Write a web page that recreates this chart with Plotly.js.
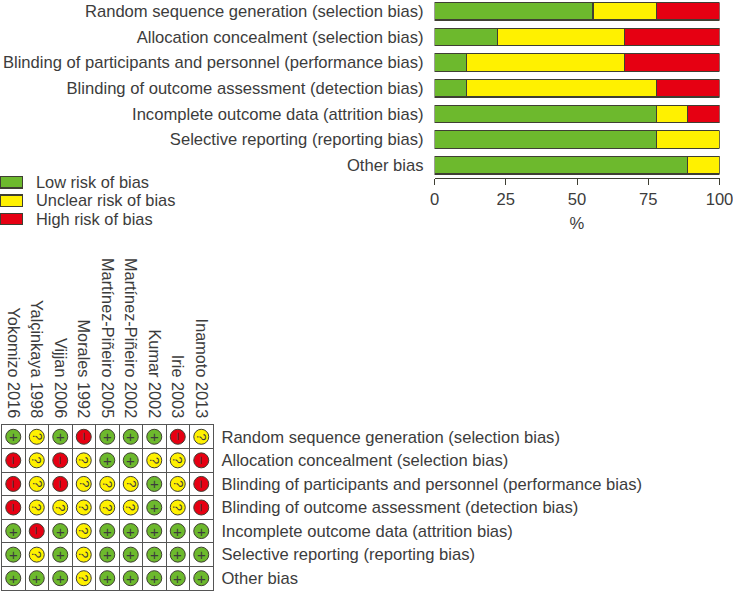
<!DOCTYPE html>
<html>
<head>
<meta charset="utf-8">
<script src="https://cdn.plot.ly/plotly-3.0.0.min.js"></script>
<style>html,body{margin:0;padding:0;background:#fff}#c{width:733px;height:591px}</style>
</head>
<body>
<div id="c"></div>
<script>
const domains = [
  "Random sequence generation (selection bias)",
  "Allocation concealment (selection bias)",
  "Blinding of participants and personnel (performance bias)",
  "Blinding of outcome assessment (detection bias)",
  "Incomplete outcome data (attrition bias)",
  "Selective reporting (reporting bias)",
  "Other bias"
];
const lowPct = [55.6, 22.2, 11.1, 11.1, 77.8, 77.8, 88.9];
const unclearPct = [22.2, 44.4, 55.6, 66.7, 11.1, 22.2, 11.1];
const highPct = [22.2, 33.4, 33.3, 22.2, 11.1, 0, 0];
const studies = ["Yokomizo 2016","Yalçinkaya 1998","Vijjan 2006","Morales 1992","Martínez-Piñeiro 2005","Martínez-Piñeiro 2002","Kumar 2002","Irie 2003","Inamoto 2013"];
const ratings = [
  ["+","?","+","-","+","+","+","-","?"],
  ["-","?","-","?","+","+","?","?","-"],
  ["-","?","-","?","?","?","+","?","-"],
  ["-","?","?","?","?","?","+","?","-"],
  ["+","-","+","?","+","+","+","+","+"],
  ["+","?","+","?","+","+","+","+","+"],
  ["+","+","+","?","+","+","+","+","+"]
];
const legendLabels = ["Low risk of bias","Unclear risk of bias","High risk of bias"];
const legendLengths = [1,1,1];
const GREEN="#6DB92D", YELLOW="#FFF100", RED="#E60012", INK="#3c3c3c", EDGE="#3f3f33";
const W=733,H=591;
const FONT="Liberation Sans, Arial, sans-serif";
const FS=16.6;
const colorOf={"+":GREEN,"?":YELLOW,"-":RED};

function barTrace(name,x,color){
  return {type:"bar",orientation:"h",name:name,y:domains,x:x,xaxis:"x",yaxis:"y",showlegend:false,
    marker:{color:color,line:{color:EDGE,width:1.2}},hoverinfo:"x+y+name"};
}
const dotX=[],dotY=[],dotC=[],anns=[];
ratings.forEach((row,r)=>row.forEach((v,c)=>{
  dotX.push(studies[c]);dotY.push(domains[r]);dotC.push(colorOf[v]);
  anns.push({xref:"x2",yref:"y2",x:c,y:r,text:v==="-"?"−":v,showarrow:false,
    textangle:v==="+"?0:90,font:{family:FONT,size:v==="?"?13:15,color:INK}});
}));
const data=[
  barTrace("Low risk of bias",lowPct,GREEN),
  barTrace("Unclear risk of bias",unclearPct,YELLOW),
  barTrace("High risk of bias",highPct,RED),
  {type:"scatter",mode:"markers",x:dotX,y:dotY,xaxis:"x2",yaxis:"y2",showlegend:false,
   marker:{size:15,color:dotC,line:{color:EDGE,width:1}},hoverinfo:"x+y"},
  {type:"bar",orientation:"h",x:legendLengths,y:legendLabels,xaxis:"x3",yaxis:"y3",showlegend:false,width:0.62,
   marker:{color:[GREEN,YELLOW,RED],line:{color:EDGE,width:1.2}},hoverinfo:"y"}
];
const layout={
  width:W,height:H,margin:{l:0,r:0,t:0,b:0},paper_bgcolor:"#fff",plot_bgcolor:"rgba(0,0,0,0)",
  font:{family:FONT,size:FS,color:INK},barmode:"stack",bargap:0.32,showlegend:false,
  xaxis:{domain:[434.5/W,719.5/W],range:[0,100],tickvals:[0,25,50,75,100],anchor:"y",showgrid:false,zeroline:false,
    showline:true,linecolor:EDGE,linewidth:1,ticks:"outside",ticklen:6,tickcolor:EDGE,ticklabeloverflow:"allow",
    title:{text:"%",font:{size:FS,color:INK},standoff:9},tickfont:{size:FS,color:INK}},
  yaxis:{domain:[1-178/H,1],anchor:"x",type:"category",categoryorder:"array",categoryarray:domains,range:[6.5,-0.44],
    showgrid:false,zeroline:false,showline:false,ticks:"",ticklabelstandoff:10,tickfont:{size:FS,color:INK}},
  xaxis2:{domain:[1.5/W,213/W],anchor:"y2",side:"top",type:"category",categoryorder:"array",categoryarray:studies,range:[-0.5,8.5],
    tickson:"boundaries",showgrid:true,gridcolor:"#555",gridwidth:1.2,zeroline:false,showline:true,mirror:true,linecolor:"#555",linewidth:1.2,
    ticks:"",tickangle:90,ticklabelstandoff:0,tickfont:{size:16.3,color:INK}},
  yaxis2:{domain:[1-590/H,1-425/H],anchor:"x2",side:"right",type:"category",categoryorder:"array",categoryarray:domains,range:[6.5,-0.5],
    tickson:"boundaries",showgrid:true,gridcolor:"#555",gridwidth:1.2,zeroline:false,showline:true,mirror:true,linecolor:"#555",linewidth:1.2,
    ticks:"",ticklabelstandoff:4,tickfont:{size:FS,color:INK}},
  xaxis3:{domain:[0,23/W],anchor:"y3",range:[0,1],showgrid:false,zeroline:false,showline:false,ticks:"",showticklabels:false},
  yaxis3:{domain:[1-228.2/H,1-173.2/H],anchor:"x3",side:"right",type:"category",categoryorder:"array",categoryarray:legendLabels,range:[2.5,-0.5],
    tickmode:"array",tickvals:legendLabels,ticktext:legendLabels,
    showgrid:false,zeroline:false,showline:false,ticks:"",ticklabelstandoff:12,tickfont:{size:16.4,color:INK}},
  annotations:anns
};
Plotly.newPlot("c",data,layout,{displayModeBar:false,responsive:false});
</script>
</body>
</html>
